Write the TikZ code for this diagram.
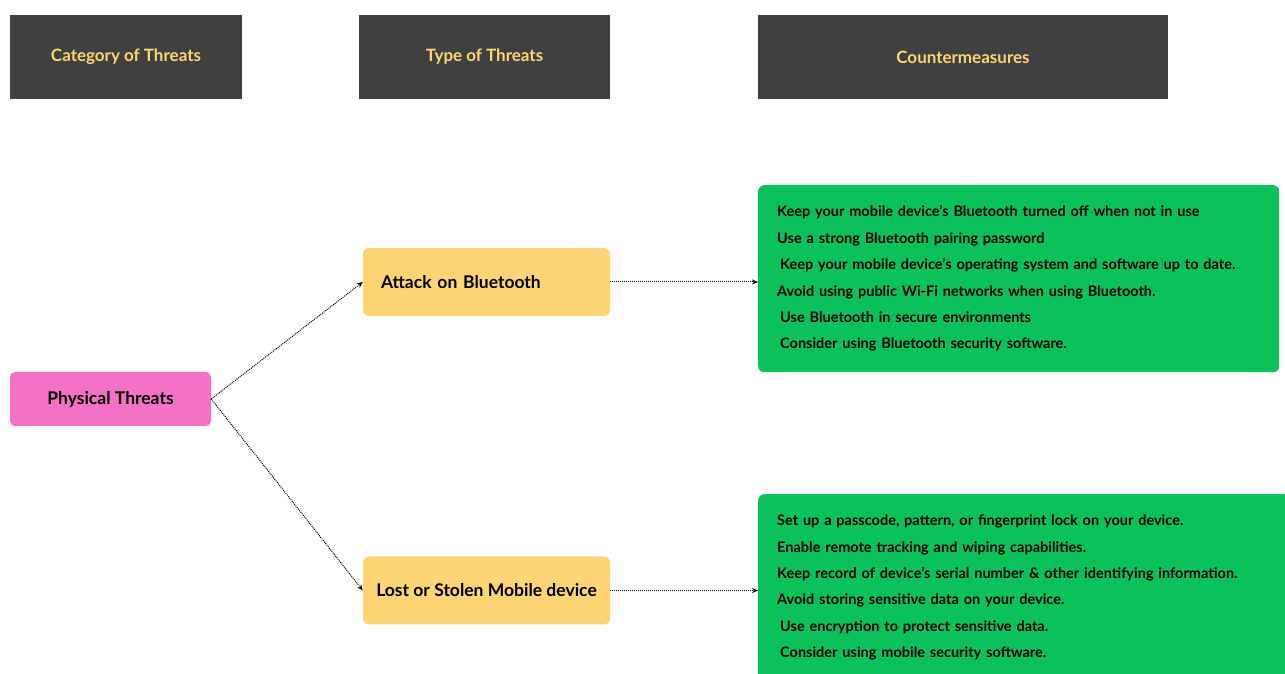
\documentclass[tikz,border=0pt]{standalone}
\usepackage{fontspec}
\setmainfont{Lato}
\usepackage{xcolor}
\usetikzlibrary{arrows.meta,positioning}

\definecolor{headgray}{HTML}{404040}
\definecolor{headtext}{HTML}{FCD575}
\definecolor{catpink}{HTML}{F472C6}
\definecolor{typeyellow}{HTML}{FDD576}
\definecolor{cmgreen}{HTML}{0AC15A}

\begin{document}
\begin{tikzpicture}[x=1pt,y=1pt,
        header/.style={fill=headgray,text=headtext,minimum height=84pt,inner sep=0pt,
            font=\fontsize{17}{20}\selectfont\bfseries},
        catbox/.style={fill=catpink,rounded corners=5pt,minimum width=201pt,minimum height=54pt,
            inner sep=0pt,font=\fontsize{17.5}{21}\selectfont\bfseries},
        typebox/.style={fill=typeyellow,rounded corners=6pt,minimum width=247pt,minimum height=68pt,
            inner sep=0pt,font=\fontsize{17.5}{21}\selectfont\bfseries},
        cmbox/.style={fill=cmgreen,rounded corners=6pt,anchor=north west,minimum height=187pt,
            inner xsep=19pt,inner ysep=0pt,align=left,
            font=\fontsize{14.5}{26.4}\selectfont\bfseries}]
        \useasboundingbox (0,0) rectangle (1285,674);
        \clip (0,0) rectangle (1285,674);
        % column heads
        \node[header,minimum width=232pt] (cat) at (126,617) {Category of Threats};
        \node[header,minimum width=251pt] (type) at (484.5,617) {Type of Threats};
        \node[header,minimum width=410pt] (cm) at (963,617) {Countermeasures};
        % boxes
        \node[catbox] (phys) at (110.5,275) {Physical Threats};
        \node[typebox,text width=211pt,align=left] (bt) at (486.5,392) {Attack on Bluetooth};
        \node[typebox] (lost) at (486.5,83.5) {Lost or Stolen Mobile device};
        \node[cmbox,text width=483pt] (btcm) at (758,489) {%
            Keep your mobile device's Bluetooth turned off when not in use\\
            Use a strong Bluetooth pairing password\\
            \hspace{3pt}Keep your mobile device's operating system and software up to date.\\
            Avoid using public Wi-Fi networks when using Bluetooth.\\
            \hspace{3pt}Use Bluetooth in secure environments\\
            \hspace{3pt}Consider using Bluetooth security software.};
        \node[cmbox,text width=494pt] (lostcm) at (758,180) {%
            Set up a passcode, pattern, or fingerprint lock on your device.\\
            Enable remote tracking and wiping capabilities.\\
            Keep record of device's serial number \& other identifying information.\\
            Avoid storing sensitive data on your device.\\
            \hspace{3pt}Use encryption to protect sensitive data.\\
            \hspace{3pt}Consider using mobile security software.};
        % links
        \begin{scope}[->,>={Stealth[length=6pt,width=5pt]},densely dotted,line width=1pt]
            \draw (phys.east) -- (bt.west);
            \draw (phys.east) -- (lost.west);
            \draw (bt.east) -- (bt.east -| btcm.west);
            \draw (lost.east) -- (lost.east -| lostcm.west);
        \end{scope}
    \end{tikzpicture}
\end{document}
